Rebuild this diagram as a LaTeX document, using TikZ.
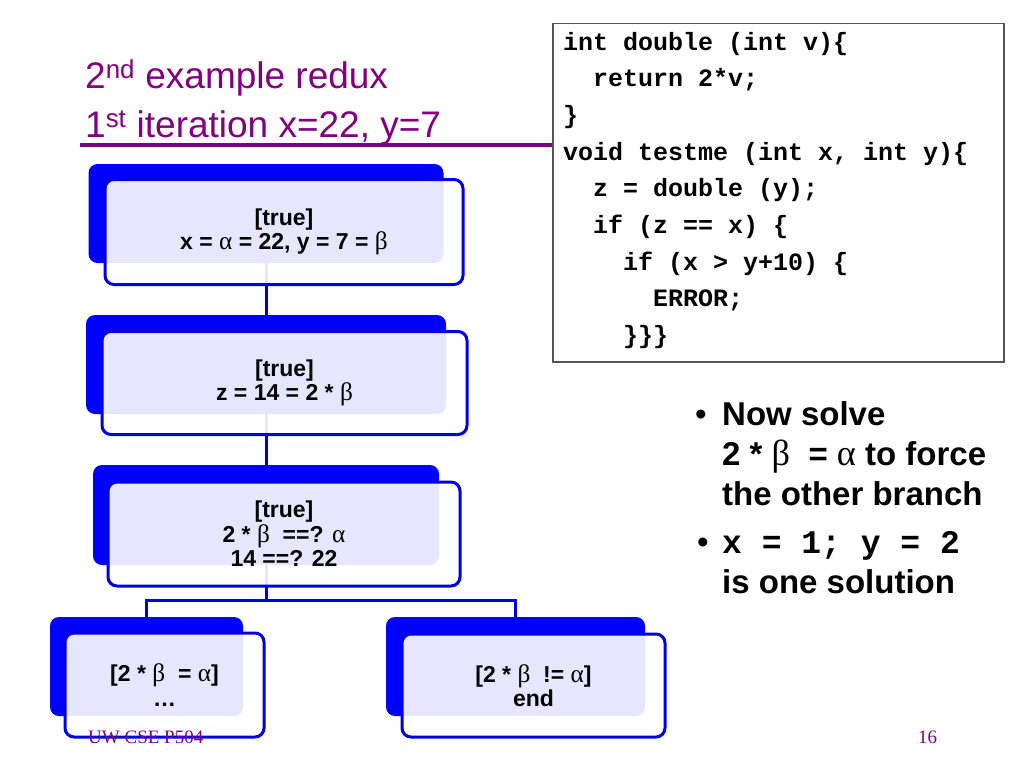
\documentclass[tikz,border=0pt]{standalone}
\usepackage{fontspec}
\setmainfont{Liberation Sans}
\setmonofont{Liberation Mono}
\newfontfamily\greekfont{Liberation Serif}
\newfontfamily\footfont{Liberation Serif}
\usetikzlibrary{backgrounds}

\definecolor{titlepurple}{RGB}{128,0,128}
\definecolor{boxblue}{RGB}{0,0,255}
\definecolor{lineblue}{RGB}{0,0,225}
\definecolor{codegray}{RGB}{85,85,85}

\newcommand{\al}{{\greekfont\mdseries\scalebox{1.1}{α}}}
\newcommand{\be}{{\greekfont\mdseries\scalebox{1.1}{β}}}

\tikzset{
  backbox/.style={fill=boxblue, rounded corners=9pt, inner sep=0pt},
  frontbox/.style={draw=lineblue, line width=3pt, rounded corners=9pt,
    fill=white, fill opacity=0.9, text opacity=1, align=center, inner sep=0pt,
    font=\bfseries\fontsize{23}{24.5}\selectfont},
  link/.style={draw=lineblue, line width=3pt},
  titletext/.style={anchor=base west, inner sep=0pt, text=titlepurple,
    font=\fontsize{37}{49}\selectfont},
  codebox/.style={draw=codegray, line width=1.5pt, anchor=north west, inner sep=0pt},
  codetext/.style={anchor=base west, inner sep=0pt, align=left,
    font=\ttfamily\bfseries\fontsize{25}{36.7}\selectfont},
  bullettext/.style={anchor=base west, inner sep=0pt, align=left,
    font=\bfseries\fontsize{33}{40}\selectfont},
  bulletdot/.style={anchor=base west, inner sep=0pt, font=\fontsize{33}{40}\selectfont},
  foottext/.style={anchor=base west, inner sep=0pt, text=titlepurple,
    font=\footfont\fontsize{19}{22}\selectfont}
}

\begin{document}
\begin{tikzpicture}[x=1pt, y=-1pt]
  \useasboundingbox (0,0) rectangle (1024,768);

  % Slide title and rule
  \node[titletext] (title) at (85,88) {2\textsuperscript{nd} example redux};
  \node[titletext] (iter) at (85,137) {1\textsuperscript{st} iteration x=22, y=7};

  % Code listing (base = last line)
  \node[codebox, minimum width=451pt, minimum height=338pt] (codebox) at (552,23) {};
  \node[codetext] (code) at (563,343.6) {int double (int v)\{\\
\ \ return 2*v;\\
\}\\
void testme (int x, int y)\{\\
\ \ z = double (y);\\
\ \ if (z == x) \{\\
\ \ \ \ if (x > y+10) \{\\
\ \ \ \ \ \ ERROR;\\
\ \ \ \ \}\}\}};

  \coordinate (rulestart) at (80,145);
  \draw[titlepurple, line width=4pt] (rulestart) -- (codebox.west |- rulestart);

  % Execution tree boxes
  \node[backbox, minimum width=355pt, minimum height=99pt] (rootback) at (266,213.5) {};
  \node[frontbox, minimum width=358pt, minimum height=105pt] (root) at (284,232)
    {[true]\\x = \al{} = 22, y = 7 = \be};

  \node[backbox, minimum width=360pt, minimum height=99pt] (zback) at (266,364.5) {};
  \node[frontbox, minimum width=365pt, minimum height=103pt] (zstep) at (284.5,383)
    {[true]\\z = 14 = 2 * \be};

  \node[backbox, minimum width=346pt, minimum height=100pt] (cmpback) at (266,515) {};
  \node[frontbox, minimum width=352pt, minimum height=104pt] (cmp) at (284,534)
    {[true]\\2 * \be\ \ ==? \al\\14 ==? 22};

  \node[backbox, minimum width=193pt, minimum height=99pt] (eqback) at (146.5,666.5) {};
  \node[frontbox, minimum width=199pt, minimum height=104pt] (eq) at (164.5,685)
    {[2 * \be\ \ = \al]\\\dots};

  \node[backbox, minimum width=259pt, minimum height=99pt] (neback) at (515.5,666.5) {};
  \node[frontbox, minimum width=263pt, minimum height=103pt] (ne) at (533.5,685.5)
    {[2 * \be\ \ != \al]\\end};

  % Tree links, behind the boxes
  \coordinate (split) at (266,600);
  \begin{scope}[on background layer]
    \draw[link] (rootback.center) -- (zback.center);
    \draw[link] (zback.center) -- (cmpback.center);
    \draw[link] (cmpback.center) -- (split) -| (eqback.center);
    \draw[link] (split) -| (neback.center);
  \end{scope}

  % Footer
  \node[foottext] (foot) at (88,743) {UW CSE P504};
  \node[foottext] (page) at (918,743) {16};

  % Notes on the right (base = last line)
  \node[bulletdot] (dota) at (695,425) {•};
  \node[bullettext] (solve) at (722,505) {Now solve\\2 * \be\ \ = \al{} to force\\the other branch};
  \node[bulletdot] (dotb) at (697,553) {•};
  \node[bullettext] (answer) at (722,593) {{\ttfamily x = 1; y = 2}\\is one solution};

\end{tikzpicture}
\end{document}
